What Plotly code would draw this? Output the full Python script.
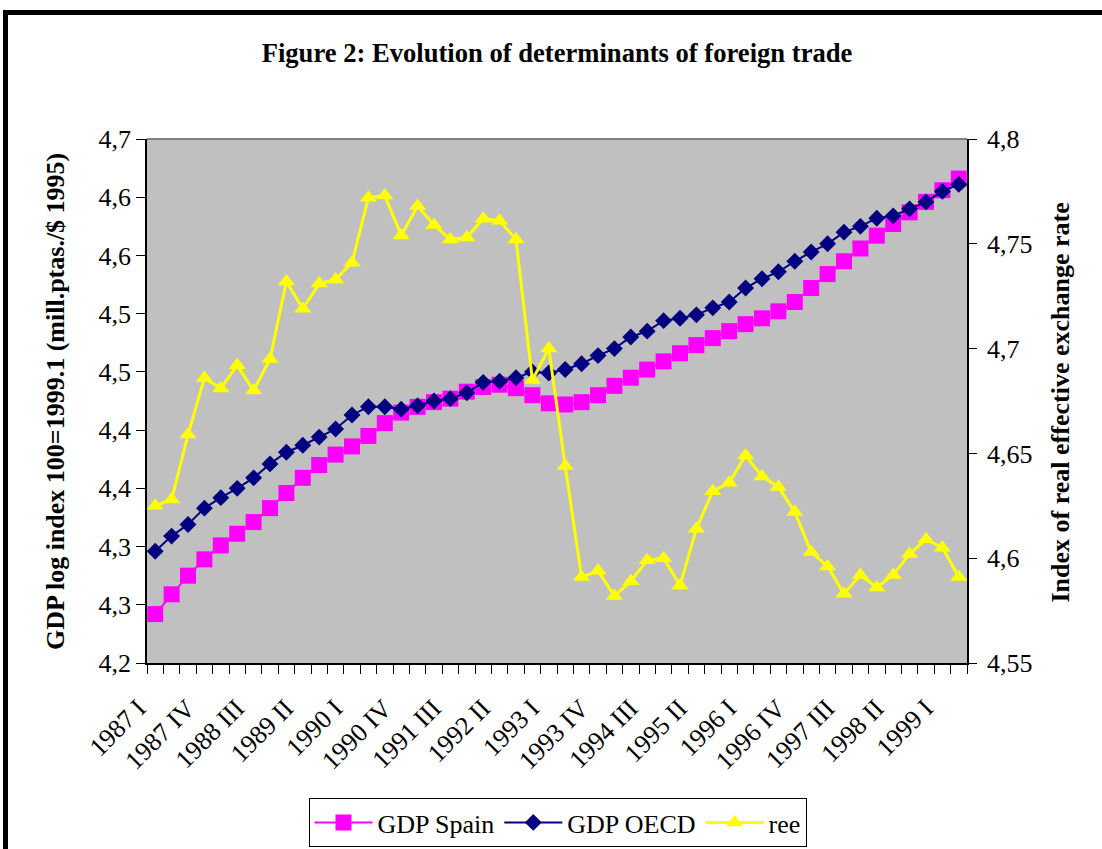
import plotly.graph_objects as go

quarters = [
    "1987 I", "1987 II", "1987 III", "1987 IV",
    "1988 I", "1988 II", "1988 III", "1988 IV",
    "1989 I", "1989 II", "1989 III", "1989 IV",
    "1990 I", "1990 II", "1990 III", "1990 IV",
    "1991 I", "1991 II", "1991 III", "1991 IV",
    "1992 I", "1992 II", "1992 III", "1992 IV",
    "1993 I", "1993 II", "1993 III", "1993 IV",
    "1994 I", "1994 II", "1994 III", "1994 IV",
    "1995 I", "1995 II", "1995 III", "1995 IV",
    "1996 I", "1996 II", "1996 III", "1996 IV",
    "1997 I", "1997 II", "1997 III", "1997 IV",
    "1998 I", "1998 II", "1998 III", "1998 IV",
    "1999 I", "1999 II",
]

tick_labels = [
    "1987 I", "1987 IV", "1988 III", "1989 II", "1990 I", "1990 IV",
    "1991 III", "1992 II", "1993 I", "1993 IV", "1994 III", "1995 II",
    "1996 I", "1996 IV", "1997 III", "1998 II", "1999 I",
]

gdp_spain = [
    4.242, 4.259, 4.275, 4.289, 4.301, 4.311, 4.321, 4.333, 4.346, 4.359,
    4.370, 4.379, 4.386, 4.395, 4.406, 4.415, 4.420, 4.424, 4.427, 4.433,
    4.437, 4.439, 4.436, 4.430, 4.423, 4.422, 4.424, 4.430, 4.438, 4.445,
    4.452, 4.459, 4.466, 4.473, 4.479, 4.485, 4.491, 4.496, 4.502, 4.510,
    4.522, 4.534, 4.545, 4.556, 4.567, 4.577, 4.587, 4.596, 4.606, 4.616,
]

gdp_oecd = [
    4.296, 4.309, 4.319, 4.333, 4.342, 4.350, 4.359, 4.371, 4.381, 4.387,
    4.394, 4.401, 4.413, 4.420, 4.420, 4.418, 4.421, 4.425, 4.427, 4.432,
    4.441, 4.442, 4.445, 4.450, 4.449, 4.452, 4.457, 4.464, 4.470, 4.480,
    4.485, 4.494, 4.496, 4.499, 4.505, 4.510, 4.522, 4.530, 4.536, 4.545,
    4.553, 4.560, 4.570, 4.575, 4.582, 4.584, 4.590, 4.596, 4.605, 4.611,
]

ree = [
    4.625, 4.628, 4.659, 4.686, 4.681, 4.692, 4.680, 4.695, 4.732, 4.719,
    4.731, 4.733, 4.741, 4.772, 4.773, 4.754, 4.768, 4.759, 4.752, 4.753,
    4.762, 4.761, 4.752, 4.685, 4.700, 4.644, 4.591, 4.594, 4.582, 4.589,
    4.599, 4.600, 4.587, 4.614, 4.632, 4.636, 4.649, 4.639, 4.634, 4.622,
    4.603, 4.596, 4.583, 4.592, 4.586, 4.592, 4.602, 4.609, 4.605, 4.591,
]

left_tickvals = [4.20, 4.25, 4.30, 4.35, 4.40, 4.45, 4.50, 4.55, 4.60, 4.65]
left_ticktext = ["4,2", "4,3", "4,3", "4,4", "4,4", "4,5", "4,5", "4,6", "4,6", "4,7"]
right_tickvals = [4.55, 4.60, 4.65, 4.70, 4.75, 4.80]
right_ticktext = ["4,55", "4,6", "4,65", "4,7", "4,75", "4,8"]

FONT = "Liberation Serif, Times New Roman, serif"

fig = go.Figure()
fig.add_trace(go.Scatter(
    x=quarters, y=gdp_spain, name="GDP Spain", mode="lines+markers",
    line=dict(color="#FF00FF", width=2),
    marker=dict(symbol="square", size=16, color="#FF00FF"),
))
fig.add_trace(go.Scatter(
    x=quarters, y=gdp_oecd, name="GDP OECD", mode="lines+markers",
    line=dict(color="#000080", width=2),
    marker=dict(symbol="diamond", size=13, color="#000080"),
))
fig.add_trace(go.Scatter(
    x=quarters, y=ree, name="ree", mode="lines+markers", yaxis="y2",
    line=dict(color="#FFFF00", width=3),
    marker=dict(symbol="triangle-up", size=15, color="#FFFF00"),
))

ticktext_x = [q if q in tick_labels else "" for q in quarters]

fig.update_layout(
    width=1102, height=849,
    margin=dict(l=147, r=135, t=139, b=186, autoexpand=False),
    paper_bgcolor="white",
    plot_bgcolor="#C0C0C0",
    font=dict(family=FONT, size=26, color="black"),
    title=dict(
        text="<b>Figure 2: Evolution of determinants of foreign trade</b>",
        x=557 / 1102, xref="container", xanchor="center",
        y=1 - 53 / 849, yref="container", yanchor="middle",
        font=dict(family=FONT, size=26.6, color="black"),
    ),
    xaxis=dict(
        type="category", categoryorder="array", categoryarray=quarters,
        range=[-0.5, len(quarters) - 0.5], automargin=False,
        tickmode="array", tickvals=quarters, ticktext=ticktext_x,
        tickson="boundaries", ticks="outside", ticklen=9, tickwidth=1,
        tickcolor="black", tickangle=-45,
        ticklabelstandoff=18, ticklabelshift=-17,
        showline=True, linecolor="black", linewidth=1.5,
        showgrid=False, zeroline=False,
        tickfont=dict(family=FONT, size=26, color="black"),
    ),
    yaxis=dict(
        range=[4.2, 4.65], tickmode="array", automargin=False,
        tickvals=left_tickvals, ticktext=left_ticktext,
        ticks="outside", ticklen=9, tickwidth=1, tickcolor="black",
        showline=True, linecolor="black", linewidth=1.5,
        showgrid=False, zeroline=False,
        tickfont=dict(family=FONT, size=26, color="black"),
    ),
    yaxis2=dict(
        overlaying="y", side="right", anchor="x", automargin=False,
        range=[4.55, 4.8], tickmode="array",
        tickvals=right_tickvals, ticktext=right_ticktext,
        ticks="outside", ticklen=8, tickwidth=1, tickcolor="black",
        ticklabelstandoff=5,
        showline=True, linecolor="black", linewidth=1.5,
        showgrid=False, zeroline=False,
        tickfont=dict(family=FONT, size=26, color="black"),
    ),
    yaxis3=dict(
        overlaying="y", side="left", anchor="x", automargin=False,
        range=[4.2, 4.65], tickmode="array", tickvals=left_tickvals,
        ticks="inside", ticklen=7, tickwidth=1, tickcolor="black",
        showticklabels=False, showline=False, showgrid=False, zeroline=False,
    ),
    yaxis4=dict(
        overlaying="y", side="right", anchor="x", automargin=False,
        range=[4.55, 4.8], tickmode="array", tickvals=right_tickvals,
        ticks="inside", ticklen=7, tickwidth=1, tickcolor="black",
        showticklabels=False, showline=False, showgrid=False, zeroline=False,
    ),
    legend=dict(
        orientation="h",
        xref="container", x=557.5 / 1102, xanchor="center",
        yref="container", y=1 - 822.5 / 849, yanchor="middle",
        bgcolor="white", bordercolor="black", borderwidth=1,
        font=dict(family=FONT, size=26, color="black"),
        itemwidth=58,
    ),
    showlegend=True,
)

fig.add_annotation(
    text="<b>GDP log index 100=1999.1 (mill.ptas./$ 1995)</b>",
    xref="paper", yref="paper", x=(55 - 147) / 820, y=(663 - 402) / 524,
    xanchor="center", yanchor="middle", textangle=-90, showarrow=False,
    font=dict(family=FONT, size=26, color="black"),
)
fig.add_annotation(
    text="<b>Index of real effective exchange rate</b>",
    xref="paper", yref="paper", x=(1060 - 147) / 820, y=(663 - 402.5) / 524,
    xanchor="center", yanchor="middle", textangle=-90, showarrow=False,
    font=dict(family=FONT, size=26, color="black"),
)

# plot-area top edge (gray) and outer chart frame (black, top and left)
fig.add_shape(type="line", xref="paper", yref="paper", x0=0, x1=1, y0=1, y1=1,
              line=dict(color="#808080", width=2))
fig.add_shape(type="line", xref="paper", yref="paper",
              x0=(3 - 147) / 820, x1=1.3, y0=(663 - 12.5) / 524, y1=(663 - 12.5) / 524,
              line=dict(color="black", width=5))
fig.add_shape(type="line", xref="paper", yref="paper",
              x0=(5.5 - 147) / 820, x1=(5.5 - 147) / 820, y0=(663 - 10) / 524, y1=-0.5,
              line=dict(color="black", width=5))

fig.write_html("out.html", config={"displayModeBar": False},
               post_script="document.body.style.margin='0px';")
